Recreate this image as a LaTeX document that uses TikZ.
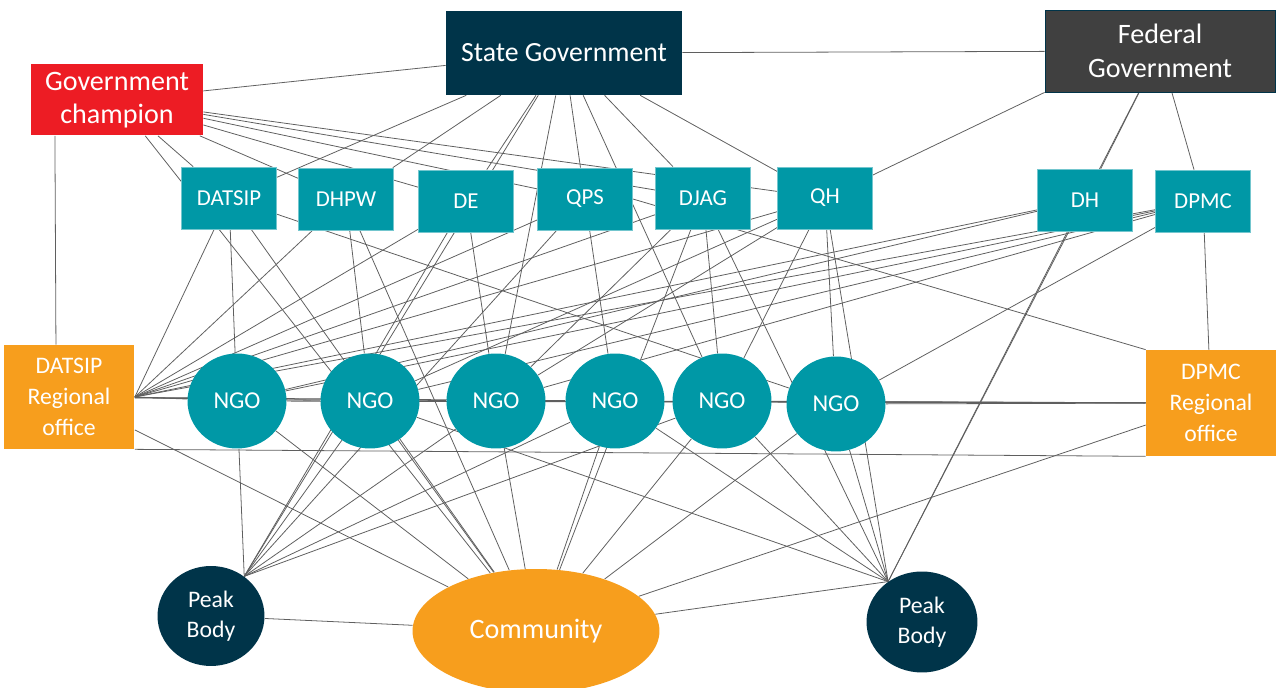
\documentclass[tikz,border=0pt]{standalone}
\usepackage{fontspec}
\setmainfont{Carlito}
\usetikzlibrary{shapes.geometric,backgrounds}

\definecolor{navy}{RGB}{0,52,73}
\definecolor{fedgray}{RGB}{64,64,64}
\definecolor{champred}{RGB}{237,28,36}
\definecolor{deptteal}{RGB}{0,152,166}
\definecolor{regorange}{RGB}{247,158,29}
\definecolor{linegray}{RGB}{95,95,95}

\tikzstyle{edge} = [draw=linegray,line width=0.45pt]
\tikzstyle{box} = [rectangle,text=white,align=center,inner sep=0pt]
\tikzstyle{dept} = [box,fill=deptteal,draw=deptteal!55!white,line width=0.4pt,minimum width=1.9cm,minimum height=1.24cm,font=\fontsize{13}{15}\selectfont]
\tikzstyle{regional} = [box,fill=regorange,minimum width=2.62cm,minimum height=2.08cm,font=\fontsize{13.5}{17.5}\selectfont]
\tikzstyle{ngo} = [ellipse,fill=deptteal,text=white,inner sep=0pt,minimum width=1.98cm,minimum height=1.9cm,font=\fontsize{13.8}{16}\selectfont]
\tikzstyle{peak} = [ellipse,fill=navy,text=white,align=center,inner sep=0pt,font=\fontsize{13.5}{17}\selectfont]

\begin{document}
\begin{tikzpicture}[x=0.02cm,y=-0.02cm]
    \useasboundingbox (0,0) rectangle (1276,688);
    % top level
    \node[box,fill=navy,minimum width=4.72cm,minimum height=1.68cm,font=\fontsize{15.8}{18}\selectfont] (sg) at (564,53) {State Government};
    \node[box,fill=fedgray,draw=navy,line width=0.5pt,minimum width=4.6cm,minimum height=1.64cm,font=\fontsize{16}{19}\selectfont] (fg) at (1160,51) {Federal\\Government};
    \node[box,fill=champred,minimum width=3.44cm,minimum height=1.42cm,font=\fontsize{16}{19}\selectfont] (gc) at (117,100) {Government\\champion};
    % departments
    \foreach \nodename/\x/\y in {
      DATSIP/229/198, DHPW/346/199, DE/466/201, QPS/585/199,
      DJAG/703/198, QH/825/198, DH/1085/200, DPMC/1203/201}
    {
        \node[dept] (\nodename) at (\x,\y) {\nodename};
    };
    % regional offices
    \node[regional] (dro) at (69,397) {DATSIP\\Regional\\office};
    \node[regional,minimum width=2.6cm,minimum height=2.12cm] (dpro) at (1211,403) {DPMC\\Regional\\office};
    % NGOs
    \foreach \nodename/\x/\y in {
      ngoA/237/401, ngoB/370/401, ngoC/496/401,
      ngoD/615/401, ngoE/722/401, ngoF/836/404}
    {
        \node[ngo] (\nodename) at (\x,\y) {NGO};
    };
    % bottom
    \node[peak,minimum width=2.14cm,minimum height=2cm] (pb1) at (211,616) {Peak\\Body};
    \node[peak,minimum width=2.22cm,minimum height=2.02cm] (pb2) at (922,622) {Peak\\Body};
    \node[ellipse,fill=regorange,text=white,inner sep=0pt,minimum width=4.94cm,minimum height=2.48cm,font=\fontsize{16}{18}\selectfont] (com) at (536,631) {Community};
    % edges
    \begin{scope}[on background layer]
      \path
      \foreach \startnode/\endnode in {
        gc/sg, gc/DATSIP, gc/DHPW, gc/DE, gc/QPS, gc/DJAG, gc/QH,
        gc.210/dro.104, gc/com,
        sg/fg, sg/DATSIP, sg/DHPW, sg/DE, sg/ngoC, sg/QPS, sg/DJAG,
        sg/ngoE, sg/QH, sg/pb1.50,
        fg.south west/QH, fg/DH, fg/DPMC, fg/pb2.130,
        DATSIP/dro.east, DATSIP/ngoA, DATSIP/com, DATSIP/ngoF,
        DHPW/dro.east, DHPW/ngoB, DHPW/com,
        DE/dro.east, DE/ngoC, DE/pb1.50,
        QPS/ngoD, QPS/pb1.50, QPS.east/dpro.north west, QPS/dro.east,
        DJAG/dro.east, DJAG/com, DJAG/ngoC, DJAG/ngoE, DJAG/pb2.130,
        QH/dro.east, QH/ngoB, QH/ngoC, QH/ngoF, QH/pb2.130, QH/ngoE,
        DH/pb2.130, DH/dro.east, DH/ngoA,
        DPMC/dro.east, DPMC/ngoA, DPMC/ngoB, DPMC/ngoC, DPMC/ngoF, DPMC/dpro,
        dro.east/ngoA, dro/ngoB, dro/ngoC, dro/ngoD,
        dro.south east/dpro.south west, dro/com,
        ngoA/pb1.50, ngoB/pb1.50, ngoC/pb1.50, ngoD/pb1.50, ngoE/pb1.50,
        ngoA/com, ngoB/com, ngoC/com, ngoD/com, ngoE/com, ngoF/com,
        ngoB/pb2.130, ngoD/pb2.130, ngoE/pb2.130, ngoF/pb2.130,
        ngoA/dpro, ngoB/dpro, ngoC/dpro, ngoD/dpro, ngoE/dpro, ngoF/dpro,
        pb1/com, pb2.130/com, dpro/com}
      {
        (\startnode) edge[edge] (\endnode)
      };
    \end{scope}
\end{tikzpicture}
\end{document}
